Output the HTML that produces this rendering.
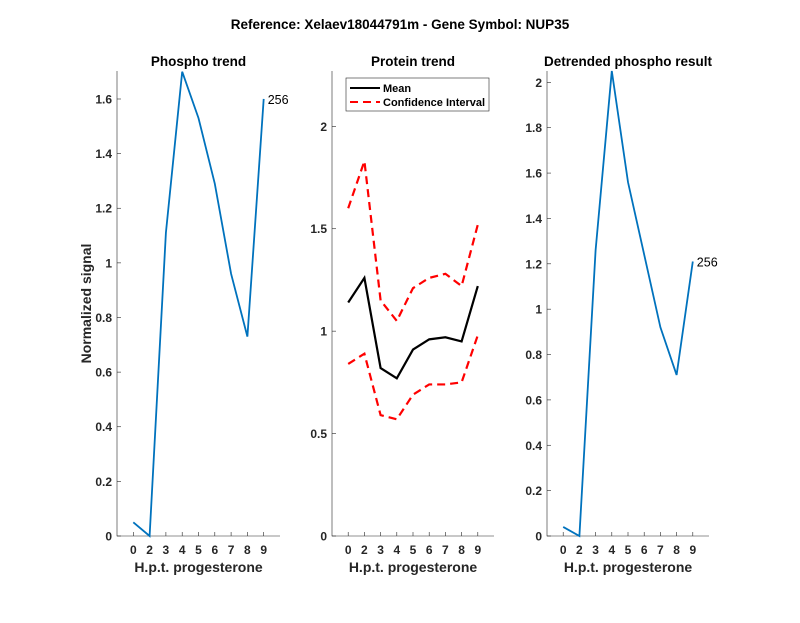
<!DOCTYPE html>
<html><head><meta charset="utf-8"><style>
body{margin:0;background:#fff;}
svg text{font-family:"Liberation Sans",Arial,sans-serif;fill:#262626;}
</style></head><body>
<svg id="fig" width="800" height="618" xmlns="http://www.w3.org/2000/svg">
<rect width="800" height="618" fill="#fff"/>
<text x="400" y="29" font-size="13.5" font-weight="bold" text-anchor="middle" style="fill:#000">Reference:  Xelaev18044791m - Gene Symbol:  NUP35</text>
</svg>
<script>
const categories = ['0','2','3','4','5','6','7','8','9'];
const phospho = [0.05, 0, 1.11, 1.70, 1.53, 1.29, 0.96, 0.73, 1.60];
const proteinMean = [1.14, 1.26, 0.82, 0.77, 0.91, 0.96, 0.97, 0.95, 1.22];
const proteinUpper = [1.60, 1.83, 1.15, 1.05, 1.21, 1.26, 1.28, 1.22, 1.52];
const proteinLower = [0.84, 0.89, 0.59, 0.57, 0.69, 0.74, 0.74, 0.75, 0.98];
const detrended = [0.04, 0, 1.26, 2.05, 1.56, 1.24, 0.92, 0.71, 1.21];
const leftTicks = [0, 0.2, 0.4, 0.6, 0.8, 1, 1.2, 1.4, 1.6];
const midTicks = [0, 0.5, 1, 1.5, 2];
const rightTicks = [0, 0.2, 0.4, 0.6, 0.8, 1, 1.2, 1.4, 1.6, 1.8, 2];
const pointLabel = '256';

const svg = document.getElementById('fig');
const NS = 'http://www.w3.org/2000/svg';
function mk(tag, attrs, parent){const e=document.createElementNS(NS,tag);for(const k in attrs)e.setAttribute(k,attrs[k]);(parent||svg).appendChild(e);return e;}

function axes(name, x0, x1, yTop, yBot, ymax, ticks, title, ylabel){
  const g = mk('g',{});
  
  
  const xs = i => x0 + (i+1)*(x1-x0)/10;
  const ys = v => yBot - v/ymax*(yBot-yTop);
  const ax = mk('path',{d:`M${x0},${yTop}V${yBot}H${x1}`,fill:'none',stroke:'#262626','stroke-width':0.6},g);
  
  
  ticks.forEach(t=>{
    const y=ys(t);
    mk('line',{x1:x0,x2:x0+4,y1:y,y2:y,stroke:'#262626','stroke-width':0.6},g);
    const tx=mk('text',{x:x0-5,y:y+4.5,'font-size':12,'font-weight':'bold','text-anchor':'end'},g);
    tx.textContent=String(t);
    
    
  });
  categories.forEach((c,i)=>{
    const x=xs(i);
    mk('line',{x1:x,x2:x,y1:yBot,y2:yBot-4,stroke:'#262626','stroke-width':0.6},g);
    const tx=mk('text',{x:x,y:yBot+18,'font-size':12,'font-weight':'bold','text-anchor':'middle'},g);
    tx.textContent=c;
    
    
  });
  const xl=mk('text',{x:(x0+x1)/2,y:yBot+36,'font-size':14,'font-weight':'bold','text-anchor':'middle'},g);
  xl.textContent='H.p.t. progesterone';
  
  
  const tt=mk('text',{x:(x0+x1)/2,y:yTop-5,'font-size':13.5,'font-weight':'bold','text-anchor':'middle',style:'fill:#000'},g);
  tt.textContent=title;
  
  
  if(ylabel){
    const yl=mk('text',{transform:`translate(${x0-26},${(yTop+yBot)/2}) rotate(-90)`,'font-size':14,'font-weight':'bold','text-anchor':'middle'},g);
    yl.textContent=ylabel;
    
    
  }
  return {g,xs,ys};
}
function line(a, vals, color, dash, w, nm){
  const d=vals.map((v,i)=>(i?'L':'M')+a.xs(i)+','+a.ys(v)).join('');
  const p=mk('path',{d:d,fill:'none',stroke:color,'stroke-width':w,'stroke-dasharray':dash||'none'},a.g);
  
  
}
function endLabel(a, vals, nm){
  const n=vals.length-1;
  const t=mk('text',{x:a.xs(n)+4,y:a.ys(vals[n])+5,'font-size':12.5,style:'fill:#000'},a.g);
  t.textContent=pointLabel;
  
  
}

const A=axes('phospho-trend-axes',117,280,71,536,1.7025,leftTicks,'Phospho trend','Normalized signal');
line(A,phospho,'#0072BD',null,1.8,'phospho-line');
endLabel(A,phospho,'phospho-point-label');

const B=axes('protein-trend-axes',332,494,71,536,2.27,midTicks,'Protein trend',null);
line(B,proteinUpper,'#ff0000','8 5',2.2,'ci-upper-line');
line(B,proteinLower,'#ff0000','8 5',2.2,'ci-lower-line');
line(B,proteinMean,'#000000',null,2.2,'mean-line');
const lg=mk('g',{});


mk('rect',{x:346,y:78,width:143,height:33,fill:'#fff',stroke:'#262626','stroke-width':0.6},lg);
mk('line',{x1:350,x2:380,y1:88,y2:88,stroke:'#000','stroke-width':2},lg);
mk('line',{x1:350,x2:380,y1:102,y2:102,stroke:'#f00','stroke-width':2,'stroke-dasharray':'8 5'},lg);
const l1=mk('text',{x:383,y:92,'font-size':11,'font-weight':'bold',style:'fill:#000'},lg);l1.textContent='Mean';


const l2=mk('text',{x:383,y:106,'font-size':11,'font-weight':'bold',style:'fill:#000'},lg);l2.textContent='Confidence Interval';



const C=axes('detrended-axes',547,709,71,536,2.05,rightTicks,'Detrended phospho result',null);
line(C,detrended,'#0072BD',null,1.8,'detrended-line');
endLabel(C,detrended,'detrended-point-label');
</script>
</body></html>
